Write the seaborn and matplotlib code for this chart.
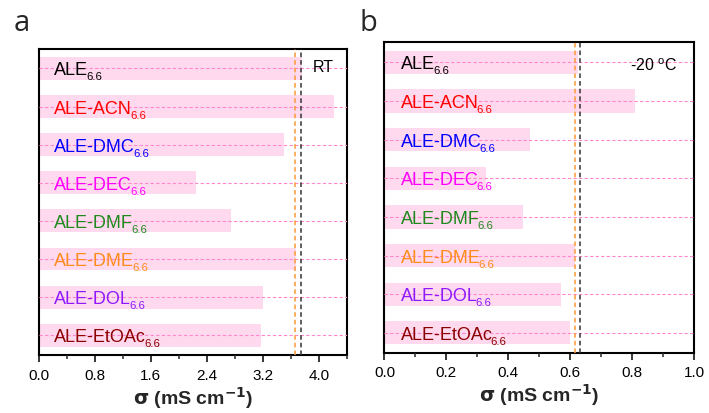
import matplotlib
matplotlib.use("Agg")
import matplotlib.pyplot as plt
import seaborn as sns
import pandas as pd
from matplotlib.ticker import MultipleLocator, FormatStrFormatter

sns.set_theme(style="white")
plt.rcParams['font.family'] = ['Liberation Sans', 'DejaVu Sans']
plt.rcParams['mathtext.default'] = 'regular'

# ---- data ----
categories = ["ALE", "ALE-ACN", "ALE-DMC", "ALE-DEC", "ALE-DMF", "ALE-DME", "ALE-DOL", "ALE-EtOAc"]
subscript = "6.6"
sigma_rt = [3.76, 4.22, 3.50, 2.25, 2.74, 3.67, 3.21, 3.17]
sigma_m20 = [0.626, 0.81, 0.469, 0.327, 0.449, 0.615, 0.570, 0.598]
ref_lines_rt = [3.66, 3.75]       # orange, black dashed references
ref_lines_m20 = [0.617, 0.632]
label_colors = ["#000000", "#FF0000", "#0000FF", "#FF00FF", "#1E8A1E", "#FF8C1A", "#8F1AFF", "#8B0000"]
ref_colors = ["#FF9933", "#333333"]

bar_color = "#FFD9EE"
grid_color = "#FF88CC"

fig = plt.figure(figsize=(7.09, 4.14), dpi=100)
axA = fig.add_axes([0.0547, 0.140, 0.4343, 0.740])
axB = fig.add_axes([0.5423, 0.145, 0.4365, 0.7505])
renderer = fig.canvas.get_renderer()


def draw(ax, vals, refs, xmax, major, minor, note, note_xy, note_ha, lab_dx):
    df = pd.DataFrame({"cat": categories, "val": vals})
    sns.barplot(data=df, x="val", y="cat", ax=ax, color=bar_color, width=0.6,
                saturation=1, edgecolor="none", linewidth=0, zorder=1)
    ax.set_xlim(0, xmax)
    ax.set_ylim(len(categories) - 0.48, -0.52)
    ax.set_axisbelow(False)
    ax.yaxis.grid(True, linestyle=(0, (3, 2)), color=grid_color, linewidth=0.8, zorder=2)
    ax.xaxis.grid(False)
    for r, c in zip(refs, ref_colors):
        ax.axvline(r, color=c, linestyle=(0, (3, 2)), linewidth=1.1, zorder=3)
    for i, (cat, col) in enumerate(zip(categories, label_colors)):
        t = ax.annotate(cat, xy=(0, i), xytext=(lab_dx, -6),
                        textcoords="offset pixels", ha="left", va="baseline",
                        color=col, fontsize=13, zorder=4)
        w = t.get_window_extent(renderer).width
        ax.annotate(subscript, xy=(0, i), xytext=(lab_dx + w - 1.5, -11),
                    textcoords="offset pixels", ha="left", va="baseline",
                    color=col, fontsize=8.2, zorder=4)
    ax.text(note_xy[0], note_xy[1], note, transform=ax.transAxes, ha=note_ha,
            va="baseline", fontsize=11.5, color="black")
    ax.set_ylabel("")
    ax.set_yticks(range(len(categories)))
    ax.set_yticklabels([])
    ax.tick_params(axis="y", length=0, left=False)
    ax.xaxis.set_major_locator(MultipleLocator(major))
    ax.xaxis.set_minor_locator(MultipleLocator(minor))
    ax.xaxis.set_major_formatter(FormatStrFormatter("%.1f"))
    ax.tick_params(axis="x", which="major", direction="out", length=5, width=1.1,
                   labelsize=11, pad=4, bottom=True, colors="black")
    ax.tick_params(axis="x", which="minor", direction="out", length=3, width=1.1, bottom=True)
    ax.set_xlabel(r"$\mathbf{\sigma}$ (mS cm$^{\mathbf{-1}}$)", fontsize=14, fontweight="bold",
                  labelpad=2)
    for s in ax.spines.values():
        s.set_visible(True)
        s.set_color("black")
        s.set_linewidth(1.5)


draw(axA, sigma_rt, ref_lines_rt, 4.4, 0.8, 0.4, "RT", (0.891, 0.928), "left", 15)
draw(axB, sigma_m20, ref_lines_m20, 1.0, 0.2, 0.1, r"-20 $^{o}$C", (0.946, 0.912), "right", 16)

fig.text(14 / 709, 1 - 31 / 414, "a", fontsize=21, family="Open Sans", ha="left", va="baseline")
fig.text(359 / 709, 1 - 31 / 414, "b", fontsize=21, family="Open Sans", ha="left", va="baseline")

fig.savefig("out.png", dpi=100)
